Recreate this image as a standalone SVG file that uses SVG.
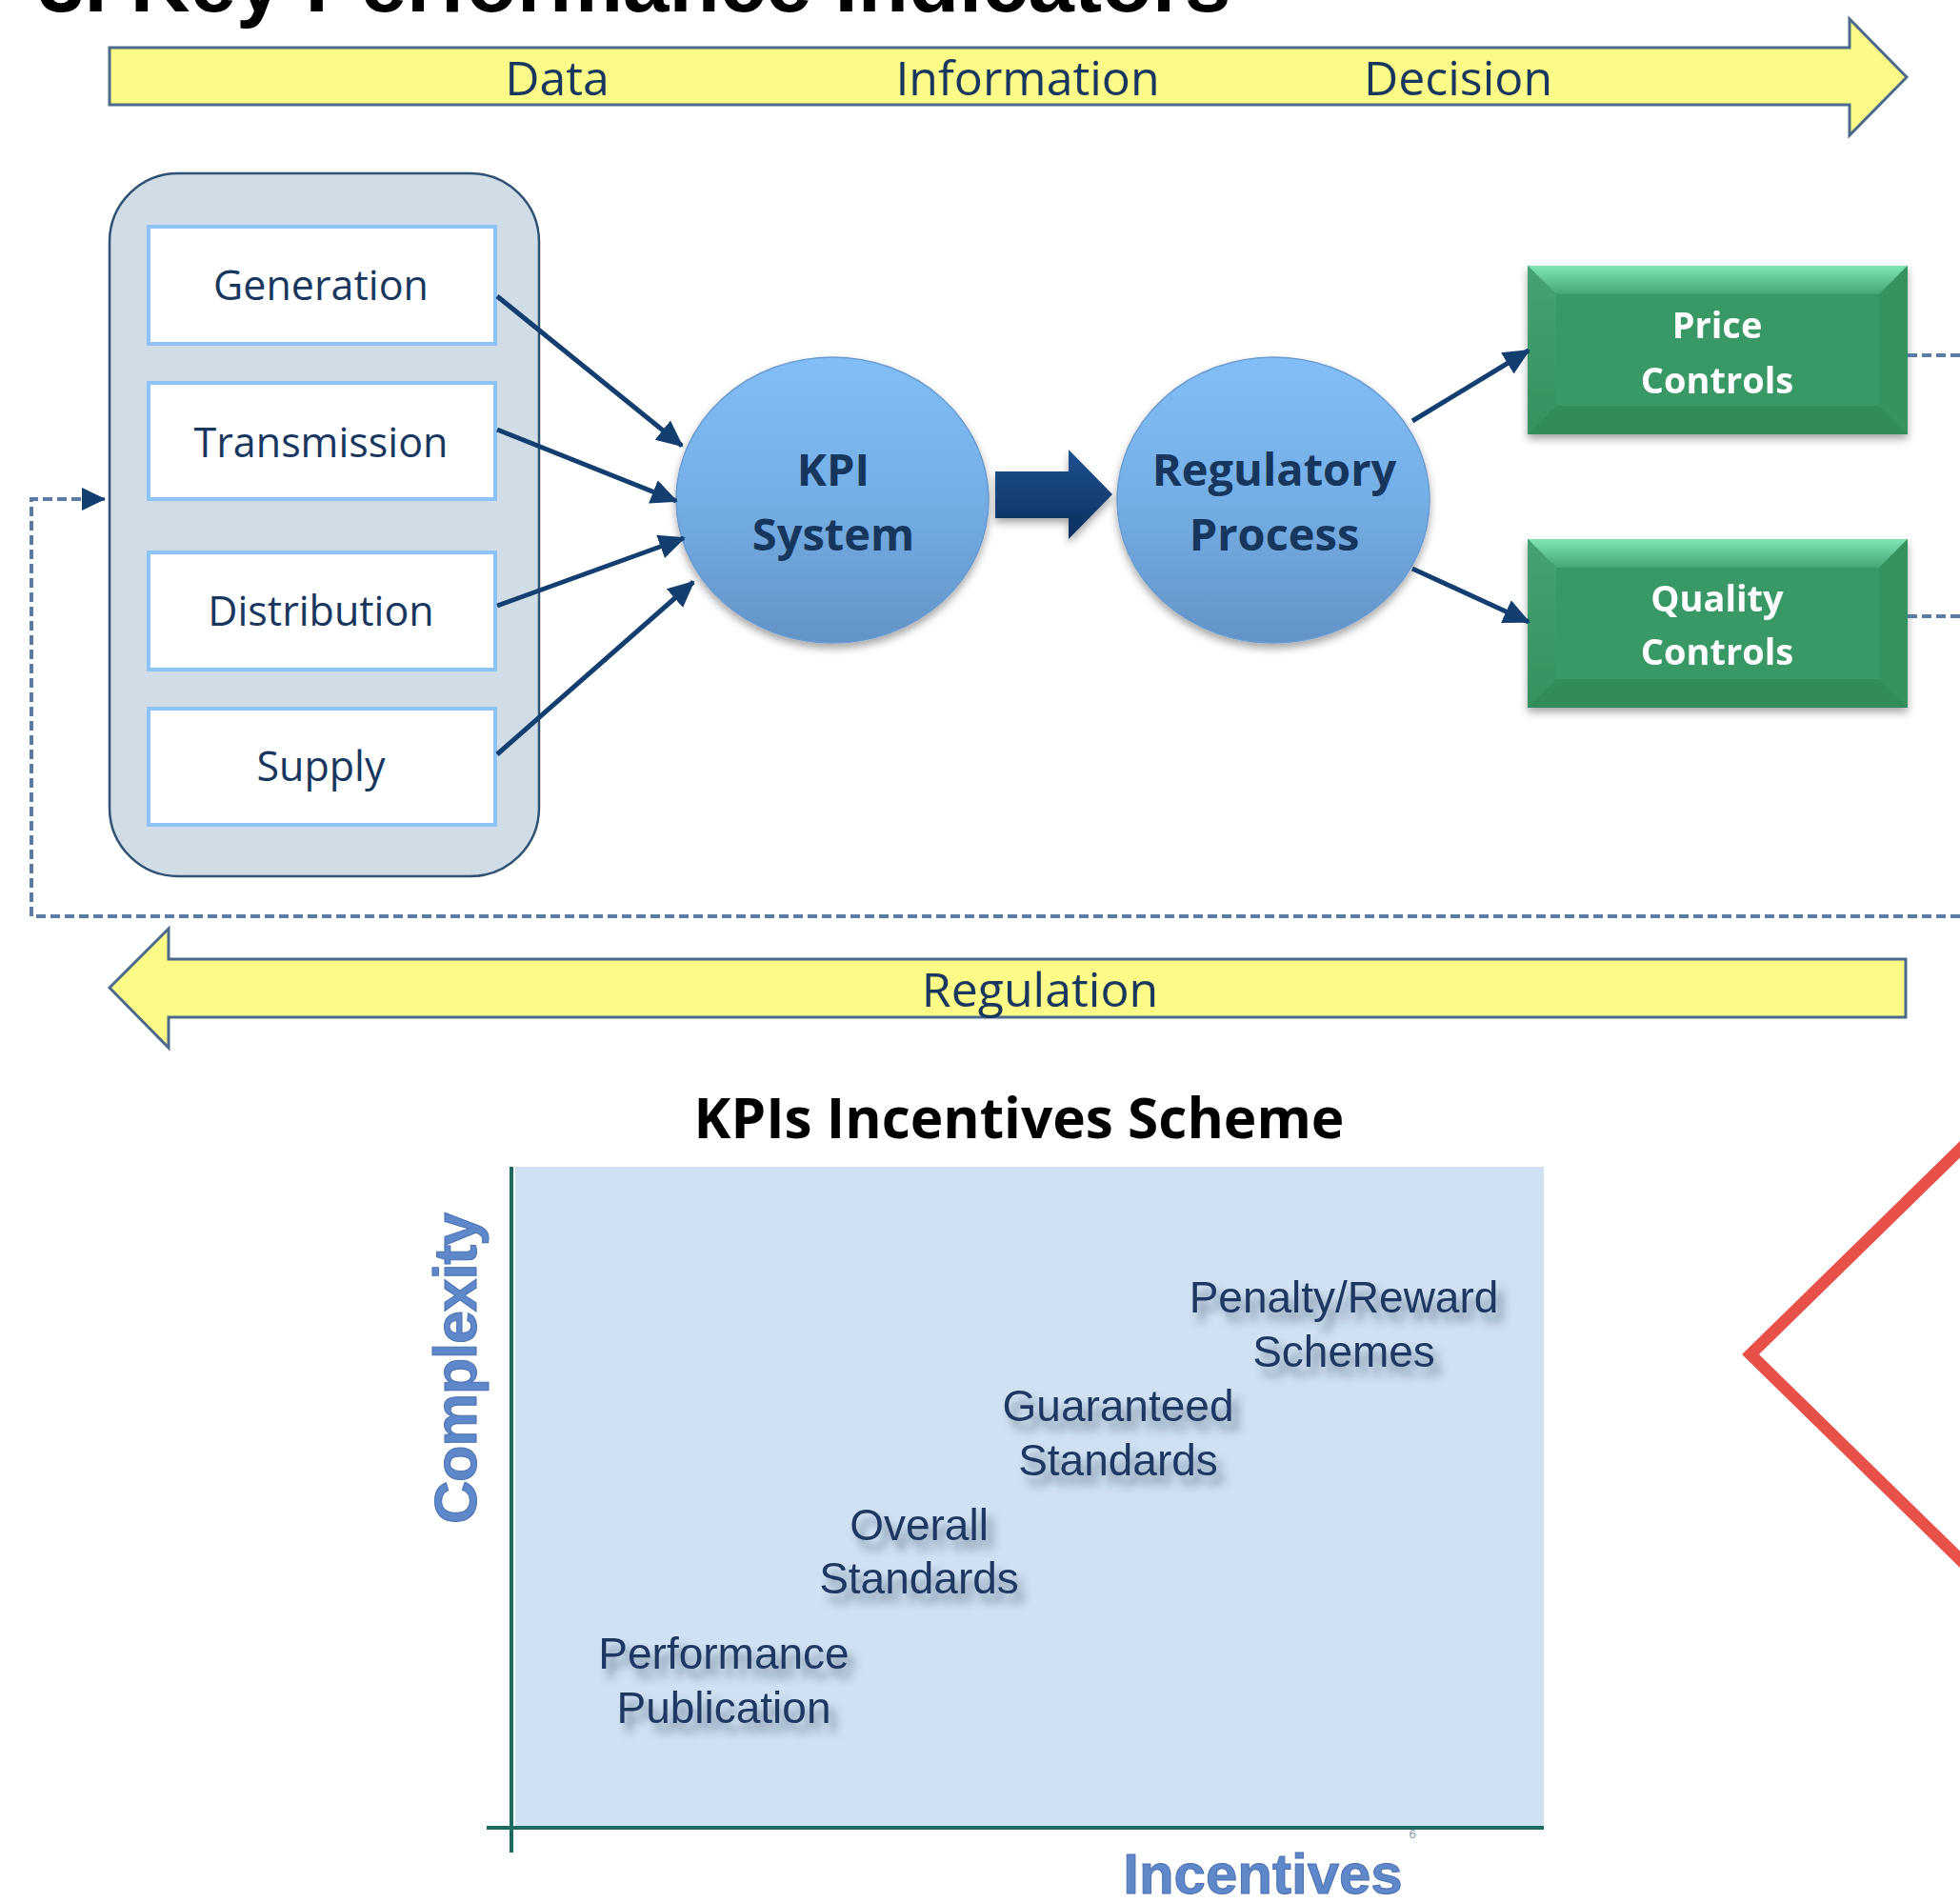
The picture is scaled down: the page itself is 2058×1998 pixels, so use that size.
<svg xmlns="http://www.w3.org/2000/svg" width="2058" height="1998" viewBox="0 0 2058 1998">
<defs>
<style>
.band{fill:#FDFB87;stroke:#4B6A8C;stroke-width:3;stroke-linejoin:miter}
.bandtxt{font-family:"Open Sans","Noto Sans",sans-serif;font-size:50px;fill:#17375E;text-anchor:middle}
.box{fill:#ffffff;stroke:#8EC3F7;stroke-width:4}
.boxtxt{font-family:"Open Sans","Noto Sans",sans-serif;font-size:43px;fill:#17375E;text-anchor:middle}
.ell{fill:url(#ellGrad);stroke:#6A9BD0;stroke-width:1.5}
.elltxt{font-family:"Open Sans","Noto Sans",sans-serif;font-size:47px;font-weight:bold;fill:#17365D;text-anchor:middle}
.gtxt{font-family:"Open Sans","Noto Sans",sans-serif;font-size:38px;font-weight:bold;fill:#ffffff;text-anchor:middle}
.conn{stroke:#123F70;stroke-width:5;fill:none}
.dash{stroke:#5A7BA3;stroke-width:4;fill:none;stroke-dasharray:10 5}
.lbl{font-family:"Liberation Sans",Arial,sans-serif;font-size:46px;fill:#1F3864;text-anchor:middle}
.axis{stroke:#1D6B60;stroke-width:4}
.axlbl{font-family:"Liberation Sans",Arial,sans-serif;font-weight:bold;fill:#5E88C9;stroke:#4A70B0;stroke-width:1}
</style>
<linearGradient id="ellGrad" x1="0" y1="0" x2="0" y2="1">
<stop offset="0" stop-color="#82BEF7"/>
<stop offset="0.5" stop-color="#74AEE6"/>
<stop offset="1" stop-color="#6393C7"/>
</linearGradient>
<linearGradient id="blockGrad" x1="0" y1="0" x2="0" y2="1">
<stop offset="0" stop-color="#1E5190"/>
<stop offset="1" stop-color="#0B2F5E"/>
</linearGradient>
<linearGradient id="gTop" x1="0" y1="0" x2="0" y2="1">
<stop offset="0" stop-color="#7EE6B3"/>
<stop offset="1" stop-color="#46A574"/>
</linearGradient>
<linearGradient id="gLeft" x1="0" y1="0" x2="0" y2="1">
<stop offset="0" stop-color="#45A272"/>
<stop offset="1" stop-color="#36915F"/>
</linearGradient>
<filter id="shadow" x="-10%" y="-10%" width="130%" height="130%">
<feDropShadow dx="0" dy="5" stdDeviation="4" flood-color="#000000" flood-opacity="0.35"/>
</filter>
<filter id="txtShadow" x="-10%" y="-30%" width="130%" height="170%">
<feDropShadow dx="7" dy="10" stdDeviation="5" flood-color="#2E4360" flood-opacity="0.55"/>
</filter>
<marker id="ah" markerUnits="userSpaceOnUse" markerWidth="30" markerHeight="28" refX="26" refY="13" orient="auto">
<path d="M0,0 L28,13 L0,26 z" fill="#123F70"/>
</marker>
<marker id="ahd" markerUnits="userSpaceOnUse" markerWidth="28" markerHeight="26" refX="24" refY="12" orient="auto">
<path d="M0,0 L25,12 L0,24 z" fill="#123F70"/>
</marker>
</defs>

<rect x="0" y="0" width="2058" height="1998" fill="#ffffff"/>

<text x="40" y="12" font-family="Liberation Sans, Arial, sans-serif" font-size="87" font-weight="bold" fill="#000000">3. Key Performance Indicators</text>

<g id="flow-band">
<polygon class="band" points="115,50 1942,50 1942,20 2002,81 1942,142 1942,110 115,110"/>
<text class="bandtxt" x="585" y="100">Data</text>
<text class="bandtxt" x="1079" y="100">Information</text>
<text class="bandtxt" x="1531" y="100">Decision</text>
</g>

<g id="regulation-band">
<polygon class="band" points="2001,1007 177,1007 177,975 115,1037 177,1100 177,1068 2001,1068"/>
<text class="bandtxt" x="1092" y="1057">Regulation</text>
</g>

<g id="sectors">
<rect x="115" y="182" width="451" height="738" rx="72" ry="72" fill="#D0DCE6" stroke="#2F5275" stroke-width="2.5"/>
</g>
<g id="generation">
<rect class="box" x="156" y="238" width="364" height="123"/>
<text class="boxtxt" x="337" y="315">Generation</text>
</g>
<g id="transmission">
<rect class="box" x="156" y="402" width="364" height="122"/>
<text class="boxtxt" x="337" y="480">Transmission</text>
</g>
<g id="distribution">
<rect class="box" x="156" y="580" width="364" height="123"/>
<text class="boxtxt" x="337" y="657">Distribution</text>
</g>
<g id="supply">
<rect class="box" x="156" y="744" width="364" height="122"/>
<text class="boxtxt" x="337" y="820">Supply</text>
</g>

<g id="kpi-system">
<ellipse class="ell" cx="874" cy="525" rx="164" ry="150" filter="url(#shadow)"/>
<text class="elltxt" x="875" y="510">KPI</text>
<text class="elltxt" x="875" y="578">System</text>
</g>

<g id="regulatory-process">
<ellipse class="ell" cx="1337" cy="525" rx="164" ry="150" filter="url(#shadow)"/>
<text class="elltxt" x="1338" y="510">Regulatory</text>
<text class="elltxt" x="1338" y="578">Process</text>
</g>

<g id="price-controls" filter="url(#shadow)">
<rect x="1604" y="279" width="399" height="177" fill="#399966"/>
<polygon points="1604,279 2003,279 1973,309 1634,309" fill="url(#gTop)"/>
<polygon points="1604,279 1634,309 1634,426 1604,456" fill="url(#gLeft)"/>
<polygon points="2003,279 1973,309 1973,426 2003,456" fill="#35935F"/>
<polygon points="1604,456 2003,456 1973,426 1634,426" fill="#318C5A"/>
<text class="gtxt" x="1803" y="355">Price</text>
<text class="gtxt" x="1803" y="413">Controls</text>
</g>

<g id="quality-controls" filter="url(#shadow)">
<rect x="1604" y="566" width="399" height="177" fill="#399966"/>
<polygon points="1604,566 2003,566 1973,596 1634,596" fill="url(#gTop)"/>
<polygon points="1604,566 1634,596 1634,713 1604,743" fill="url(#gLeft)"/>
<polygon points="2003,566 1973,596 1973,713 2003,743" fill="#35935F"/>
<polygon points="1604,743 2003,743 1973,713 1634,713" fill="#318C5A"/>
<text class="gtxt" x="1803" y="642">Quality</text>
<text class="gtxt" x="1803" y="698">Controls</text>
</g>

<g id="connectors">
<line class="conn" x1="522" y1="311" x2="716" y2="468" marker-end="url(#ah)"/>
<line class="conn" x1="522" y1="451" x2="710" y2="526" marker-end="url(#ah)"/>
<line class="conn" x1="522" y1="636" x2="718" y2="565" marker-end="url(#ah)"/>
<line class="conn" x1="522" y1="792" x2="728" y2="611" marker-end="url(#ah)"/>
<line class="conn" x1="1483" y1="442" x2="1605" y2="368" marker-end="url(#ah)"/>
<line class="conn" x1="1483" y1="597" x2="1605" y2="653" marker-end="url(#ah)"/>
<polygon points="1045,495 1122,495 1122,472 1168,519 1122,566 1122,544 1045,544" fill="url(#blockGrad)" filter="url(#shadow)"/>
<path class="dash" d="M2003,373 H2058"/>
<path class="dash" d="M2003,647 H2058"/>
<path class="dash" d="M2058,962 H33 V524 H110" marker-end="url(#ahd)"/>
</g>

<g id="kpi-incentives-chart">
<text x="1070" y="1195" font-family="Open Sans, Noto Sans, sans-serif" font-size="58.5" font-weight="bold" fill="#000000" text-anchor="middle">KPIs Incentives Scheme</text>
<rect x="541" y="1225" width="1080" height="693" fill="#CFE1F2"/>
<line class="axis" x1="537" y1="1225" x2="537" y2="1945"/>
<line class="axis" x1="511" y1="1919" x2="1621" y2="1919"/>
<text class="axlbl" x="0" y="0" font-size="63" textLength="327" transform="translate(500,1600) rotate(-90)">Complexity</text>
<text class="axlbl" x="1326" y="1988" font-size="60" text-anchor="middle">Incentives</text>
<text x="1483" y="1930" font-family="Liberation Sans, Arial, sans-serif" font-size="13" fill="#8A9AA8" text-anchor="middle">6</text>
</g>

<g id="penalty-reward" filter="url(#txtShadow)">
<text class="lbl" x="1411" y="1378">Penalty/Reward</text>
<text class="lbl" x="1411" y="1435">Schemes</text>
</g>
<g id="guaranteed-standards" filter="url(#txtShadow)">
<text class="lbl" x="1174" y="1492">Guaranteed</text>
<text class="lbl" x="1174" y="1549">Standards</text>
</g>
<g id="overall-standards" filter="url(#txtShadow)">
<text class="lbl" x="965" y="1617">Overall</text>
<text class="lbl" x="965" y="1673">Standards</text>
</g>
<g id="performance-publication" filter="url(#txtShadow)">
<text class="lbl" x="760" y="1752">Performance</text>
<text class="lbl" x="760" y="1809">Publication</text>
</g>

<polyline points="2070,1195 1838,1422 2070,1649" fill="none" stroke="#E8504A" stroke-width="12.5" stroke-linejoin="miter"/>
</svg>
